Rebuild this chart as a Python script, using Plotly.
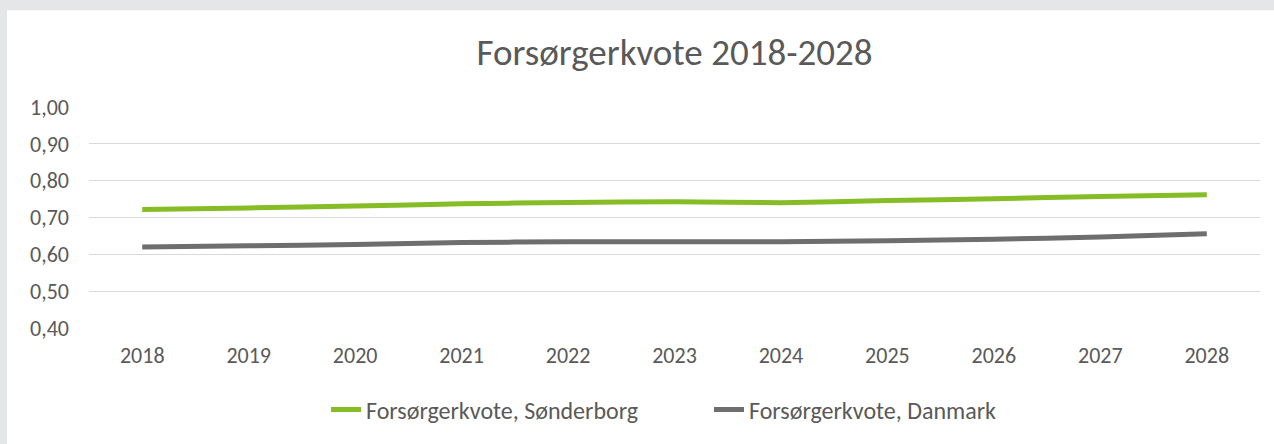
import plotly.graph_objects as go

years = ["2018", "2019", "2020", "2021", "2022", "2023", "2024", "2025", "2026", "2027", "2028"]
sonderborg = [0.722, 0.726, 0.731, 0.737, 0.741, 0.743, 0.740, 0.746, 0.751, 0.757, 0.762]
danmark = [0.620, 0.623, 0.627, 0.632, 0.634, 0.634, 0.634, 0.637, 0.641, 0.647, 0.656]
series_names = ["Forsørgerkvote, Sønderborg", "Forsørgerkvote, Danmark"]
title_text = "Forsørgerkvote 2018-2028"
y_ticks = [0.40, 0.50, 0.60, 0.70, 0.80, 0.90, 1.00]
y_tick_labels = ["0,40", "0,50", "0,60", "0,70", "0,80", "0,90", "1,00"]

W, H = 1274, 444
L, R, T, B = 89, 14, 107, 113
pw, ph = W - L - R, H - T - B

FONT = "Carlito, Lato, 'Open Sans', sans-serif"
TXT = "#595959"

fig = go.Figure()
fig.add_trace(go.Scatter(x=years, y=sonderborg, name=series_names[0], mode="lines",
                         line=dict(color="#86BC25", width=5, shape="spline", smoothing=0.5)))
fig.add_trace(go.Scatter(x=years, y=danmark, name=series_names[1], mode="lines",
                         line=dict(color="#6E6E6E", width=5, shape="spline", smoothing=0.5)))

# white chart area with light gray frame (top/left)
fig.add_shape(type="rect", xref="paper", yref="paper",
              x0=(7 - L) / pw, x1=(W - L + 5) / pw,
              y0=-(H - T - ph + 5) / ph, y1=(H - B - 9) / ph,
              fillcolor="white", line=dict(width=0), layer="below")

fig.update_layout(
    width=W, height=H,
    margin=dict(l=L, r=R, t=T, b=B),
    paper_bgcolor="#E5E6E8",
    plot_bgcolor="white",
    font=dict(family=FONT, color=TXT, size=22),
    title=dict(text=title_text, x=0.5, xanchor="center", xref="paper",
               y=1 - 52 / H, yanchor="middle",
               font=dict(family=FONT, size=37, color=TXT)),
    showlegend=True,
    legend=dict(orientation="h", x=(326 - L) / pw, xanchor="left", y=-(414 - 331) / ph, yanchor="middle",
                font=dict(family=FONT, size=24, color=TXT), bgcolor="rgba(0,0,0,0)",
                entrywidth=338, entrywidthmode="pixels"),
    xaxis=dict(type="category", range=[-0.5, 10.5], showgrid=False, zeroline=False, showline=False,
               ticks="", tickfont=dict(size=22, color=TXT), ticklabelstandoff=12),
    yaxis=dict(range=[0.40, 1.00], tickvals=y_ticks, ticktext=y_tick_labels,
               showgrid=True, gridcolor="#D9D9D9", gridwidth=1.3, zeroline=False,
               showline=False, ticks="", tickfont=dict(size=22, color=TXT), ticklabelstandoff=19),
)

fig.write_html("out.html", config={"displayModeBar": False},
               post_script="document.body.style.margin='0';document.body.style.background='#E5E6E8';document.body.style.overflow='hidden';")
